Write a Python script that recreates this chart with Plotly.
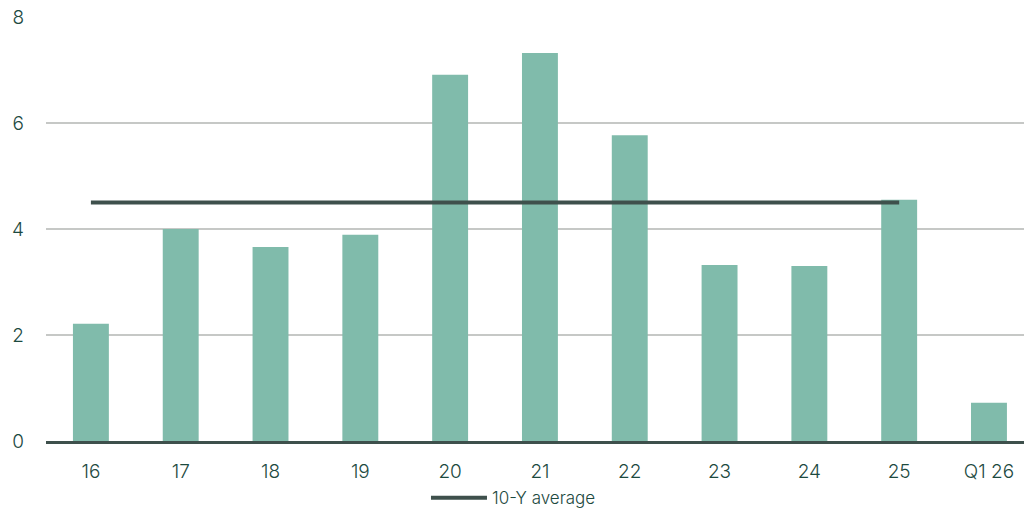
import plotly.graph_objects as go

# Yearly values with the latest quarter
categories = ["16", "17", "18", "19", "20", "21", "22", "23", "24", "25", "Q1 26"]
values = [2.21, 4.0, 3.66, 3.89, 6.91, 7.32, 5.77, 3.32, 3.30, 4.55, 0.72]

# 10-year average over the full years
avg_categories = ["16", "17", "18", "19", "20", "21", "22", "23", "24", "25"]
avg_value = 4.5

y_ticks = [0, 2, 4, 6, 8]

BAR = "#80bbab"
DARK = "#3e504c"
TEXT = "#1d4a3f"
GRID = "#c6c8c6"
FONT = "Inter, Lato, sans-serif"

fig = go.Figure()
fig.add_trace(go.Bar(
    x=categories, y=values, marker=dict(color=BAR, line=dict(width=0)),
    showlegend=False, hoverinfo="skip",
))
fig.add_trace(go.Scatter(
    x=avg_categories, y=[avg_value] * len(avg_categories), mode="lines",
    line=dict(color=DARK, width=4), name="10-Y average",
))

fig.update_layout(
    width=1024, height=509,
    margin=dict(l=46, r=0, t=17, b=68, autoexpand=False),
    paper_bgcolor="white", plot_bgcolor="white",
    bargap=0.6,
    font=dict(family=FONT, color=TEXT, size=19, weight=300),
    legend=dict(orientation="h", x=0.478, xanchor="center", y=-0.135, yanchor="middle",
                font=dict(size=17, color=TEXT, weight=300), itemwidth=56,
                bgcolor="rgba(0,0,0,0)"),
    xaxis=dict(
        type="category", range=[-0.5, 10.39],
        showgrid=False, showline=True, linecolor=DARK, linewidth=2.5,
        ticks="", ticklabelstandoff=11, tickfont=dict(size=19, color=TEXT, weight=300),
    ),
    yaxis=dict(
        range=[0, 8], tickvals=y_ticks, showgrid=True, gridcolor=GRID, gridwidth=1.5,
        zeroline=False, showline=False, ticks="", ticklabelstandoff=21,
        tickfont=dict(size=19, color=TEXT, weight=300),
    ),
)

fig.write_html("out.html")
